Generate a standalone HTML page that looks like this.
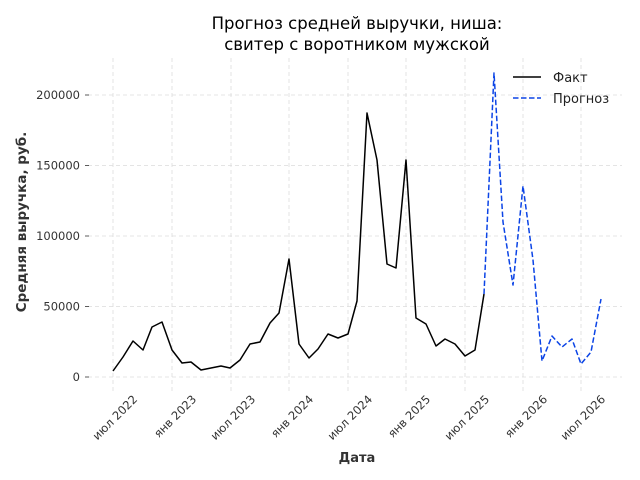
<!DOCTYPE html>
<html><head><meta charset="utf-8"><style>body{margin:0;background:#fff}svg{display:block}text{font-family:"DejaVu Sans","Liberation Sans",sans-serif}</style></head><body>
<svg width="640" height="480" viewBox="0 0 640 480">
<g stroke="#dcdcdc" stroke-width="0.8" stroke-dasharray="4,3">
<line x1="88" y1="377" x2="622" y2="377"/><line x1="88" y1="306.5" x2="622" y2="306.5"/><line x1="88" y1="236" x2="622" y2="236"/><line x1="88" y1="165.5" x2="622" y2="165.5"/><line x1="88" y1="95" x2="622" y2="95"/>
<line x1="113" y1="58" x2="113" y2="392"/><line x1="172" y1="58" x2="172" y2="392"/><line x1="231" y1="58" x2="231" y2="392"/><line x1="289" y1="58" x2="289" y2="392"/><line x1="348" y1="58" x2="348" y2="392"/><line x1="406" y1="58" x2="406" y2="392"/><line x1="465" y1="58" x2="465" y2="392"/><line x1="523" y1="58" x2="523" y2="392"/><line x1="581" y1="58" x2="581" y2="392"/>
</g>
<g stroke="#333" stroke-width="0.8">
<line x1="85" y1="377" x2="89" y2="377"/><line x1="85" y1="306.5" x2="89" y2="306.5"/><line x1="85" y1="236" x2="89" y2="236"/><line x1="85" y1="165.5" x2="89" y2="165.5"/><line x1="85" y1="95" x2="89" y2="95"/>
</g>
<g font-size="11.5" fill="#333" text-anchor="end">
<text x="80" y="381">0</text><text x="80" y="310.5">50000</text><text x="80" y="240">100000</text><text x="80" y="169.5">150000</text><text x="80" y="99">200000</text>
</g>
<g font-size="11.5" fill="#333" text-anchor="end">
<text transform="translate(138,400) rotate(-45)">июл 2022</text>
<text transform="translate(197,400) rotate(-45)">янв 2023</text>
<text transform="translate(256,400) rotate(-45)">июл 2023</text>
<text transform="translate(314,400) rotate(-45)">янв 2024</text>
<text transform="translate(373,400) rotate(-45)">июл 2024</text>
<text transform="translate(431,400) rotate(-45)">янв 2025</text>
<text transform="translate(490,400) rotate(-45)">июл 2025</text>
<text transform="translate(548,400) rotate(-45)">янв 2026</text>
<text transform="translate(606,400) rotate(-45)">июл 2026</text>
</g>
<polyline fill="none" stroke="#000" stroke-width="1.5" stroke-linejoin="round" points="113,371 123,357 133,341 143,350 152,327 162,322 172,350 182,363 191,362 201,370 211,368 221,366 230,368 240,360 250,344 260,342 270,323 279,313 289,259 299,344 309,358 318,349 328,334 338,338 348,334 357,301 367,113 377,160 387,264 396,268 406,160 416,318 426,324 436,346 445,339 455,344 465,356 475,350 484,294"/>
<polyline fill="none" stroke="#0b44e6" stroke-width="1.5" stroke-dasharray="5.5,2.5" stroke-linejoin="round" points="484,294 494,73 503,222 513,285 523,186 533,260 542,361 552,336 562,347 572,339 581,364 591,352 601,299"/>
<line x1="513" y1="77" x2="541" y2="77" stroke="#000" stroke-width="1.5"/>
<line x1="513" y1="98" x2="541" y2="98" stroke="#0b44e6" stroke-width="1.5" stroke-dasharray="5.5,2.5"/>
<text x="553" y="82" font-size="13" fill="#222">Факт</text>
<text x="553" y="103" font-size="13" fill="#222">Прогноз</text>
<text x="357" y="29" font-size="16.5" text-anchor="middle" fill="#000">Прогноз средней выручки, ниша:</text>
<text x="357" y="50" font-size="16.5" text-anchor="middle" fill="#000">свитер с воротником мужской</text>
<text x="357" y="462" font-size="13" font-weight="bold" text-anchor="middle" fill="#333">Дата</text>
<text transform="translate(26,222) rotate(-90)" font-size="13.5" font-weight="bold" text-anchor="middle" fill="#333">Средняя выручка, руб.</text>
</svg>
</body></html>
